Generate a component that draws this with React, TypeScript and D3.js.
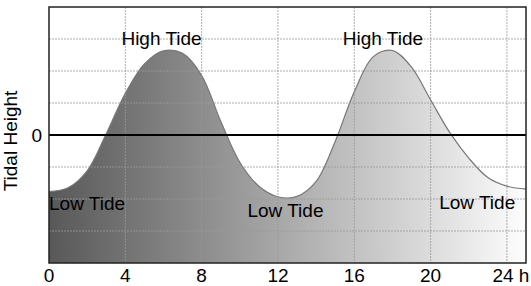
import React from "react";
import * as d3 from "d3";

// tide curve, one value per hour
const hours = [0, 1, 2, 3, 4, 5, 6, 7, 8, 9, 10, 11, 12, 13, 14, 15, 16, 17, 18, 19, 20, 21, 22, 23, 24, 25];
const heights = [-1.77, -1.65, -1.12, 0.04, 1.3, 2.22, 2.63, 2.55, 1.86, 0.43, -0.85, -1.6, -1.93, -1.92, -1.45, -0.2, 1.35, 2.45, 2.64, 2.12, 1.1, 0.08, -0.72, -1.33, -1.6, -1.69];

const xTicks = [0, 4, 8, 12, 16, 20, 24];
const xTickLabels = ["0", "4", "8", "12", "16", "20", "24 h"];
const yGrid = [-3, -2, -1, 1, 2, 3];

const labels = [
  { text: "High Tide", hour: 5.9, value: 2.8, anchor: "middle" },
  { text: "High Tide", hour: 17.5, value: 2.8, anchor: "middle" },
  { text: "Low Tide", hour: 0, value: -2.35, anchor: "start" },
  { text: "Low Tide", hour: 10.4, value: -2.57, anchor: "start" },
  { text: "Low Tide", hour: 20.45, value: -2.3, anchor: "start" },
];

const W = 531;
const H = 286;
const margin = { top: 7, right: 5, bottom: 23, left: 49 };

export default function App() {
  const x = d3.scaleLinear().domain([0, 25]).range([margin.left, W - margin.right]);
  const y = d3.scaleLinear().domain([-4, 4]).range([H - margin.bottom, margin.top]);
  const data = hours.map((h, i) => ({ h, v: heights[i] }));

  const area = d3
    .area<{ h: number; v: number }>()
    .x((d) => x(d.h))
    .y0(y(-4))
    .y1((d) => y(d.v))
    .curve(d3.curveCatmullRom);
  const line = d3
    .line<{ h: number; v: number }>()
    .x((d) => x(d.h))
    .y((d) => y(d.v))
    .curve(d3.curveCatmullRom);

  const font = "Liberation Sans, Arial, sans-serif";
  const [x0, x1] = x.range();
  const [yb, yt] = y.range();

  return (
    <svg width={W} height={H} style={{ position: "absolute", left: 0, top: 0 }} fontFamily={font}>
      <defs>
        <linearGradient id="tideFill" x1="0" x2="1" y1="0" y2="0">
          <stop offset="0%" stopColor="#585858" />
          <stop offset="100%" stopColor="#fdfdfd" />
        </linearGradient>
      </defs>
      <rect x={x0} y={yt} width={x1 - x0} height={yb - yt} fill="#fff" />
      <path d={area(data) || ""} fill="url(#tideFill)" />
      <path d={line(data) || ""} fill="none" stroke="#777" strokeWidth={1.2} />
      {yGrid.map((v) => (
        <line key={"gy" + v} x1={x0} x2={x1} y1={y(v)} y2={y(v)} stroke="#999" strokeWidth={0.8} strokeDasharray="2,1" />
      ))}
      {xTicks.slice(1).map((h) => (
        <line key={"gx" + h} x1={x(h)} x2={x(h)} y1={yt} y2={yb} stroke="#999" strokeWidth={0.8} strokeDasharray="2,1" />
      ))}
      <line x1={x0} x2={x1} y1={y(0)} y2={y(0)} stroke="#000" strokeWidth={2} />
      <rect x={x0} y={yt} width={x1 - x0} height={yb - yt} fill="none" stroke="#222" strokeWidth={1.5} />
      {labels.map((l, i) => (
        <text key={"l" + i} x={x(l.hour)} y={y(l.value)} textAnchor={l.anchor} fontSize={19} fill="#000">
          {l.text}
        </text>
      ))}
      {xTicks.map((h, i) => (
        <text key={"t" + h} x={x(h) + (i === xTicks.length - 1 ? 4 : 0)} y={282} textAnchor="middle" fontSize={19} fill="#000">
          {xTickLabels[i]}
        </text>
      ))}
      <text x={42} y={y(0) + 7} textAnchor="end" fontSize={19} fill="#000">0</text>
      <text transform={`translate(17,${(yt + yb) / 2 + 6}) rotate(-90)`} textAnchor="middle" fontSize={19} fill="#000">
        Tidal Height
      </text>
    </svg>
  );
}
